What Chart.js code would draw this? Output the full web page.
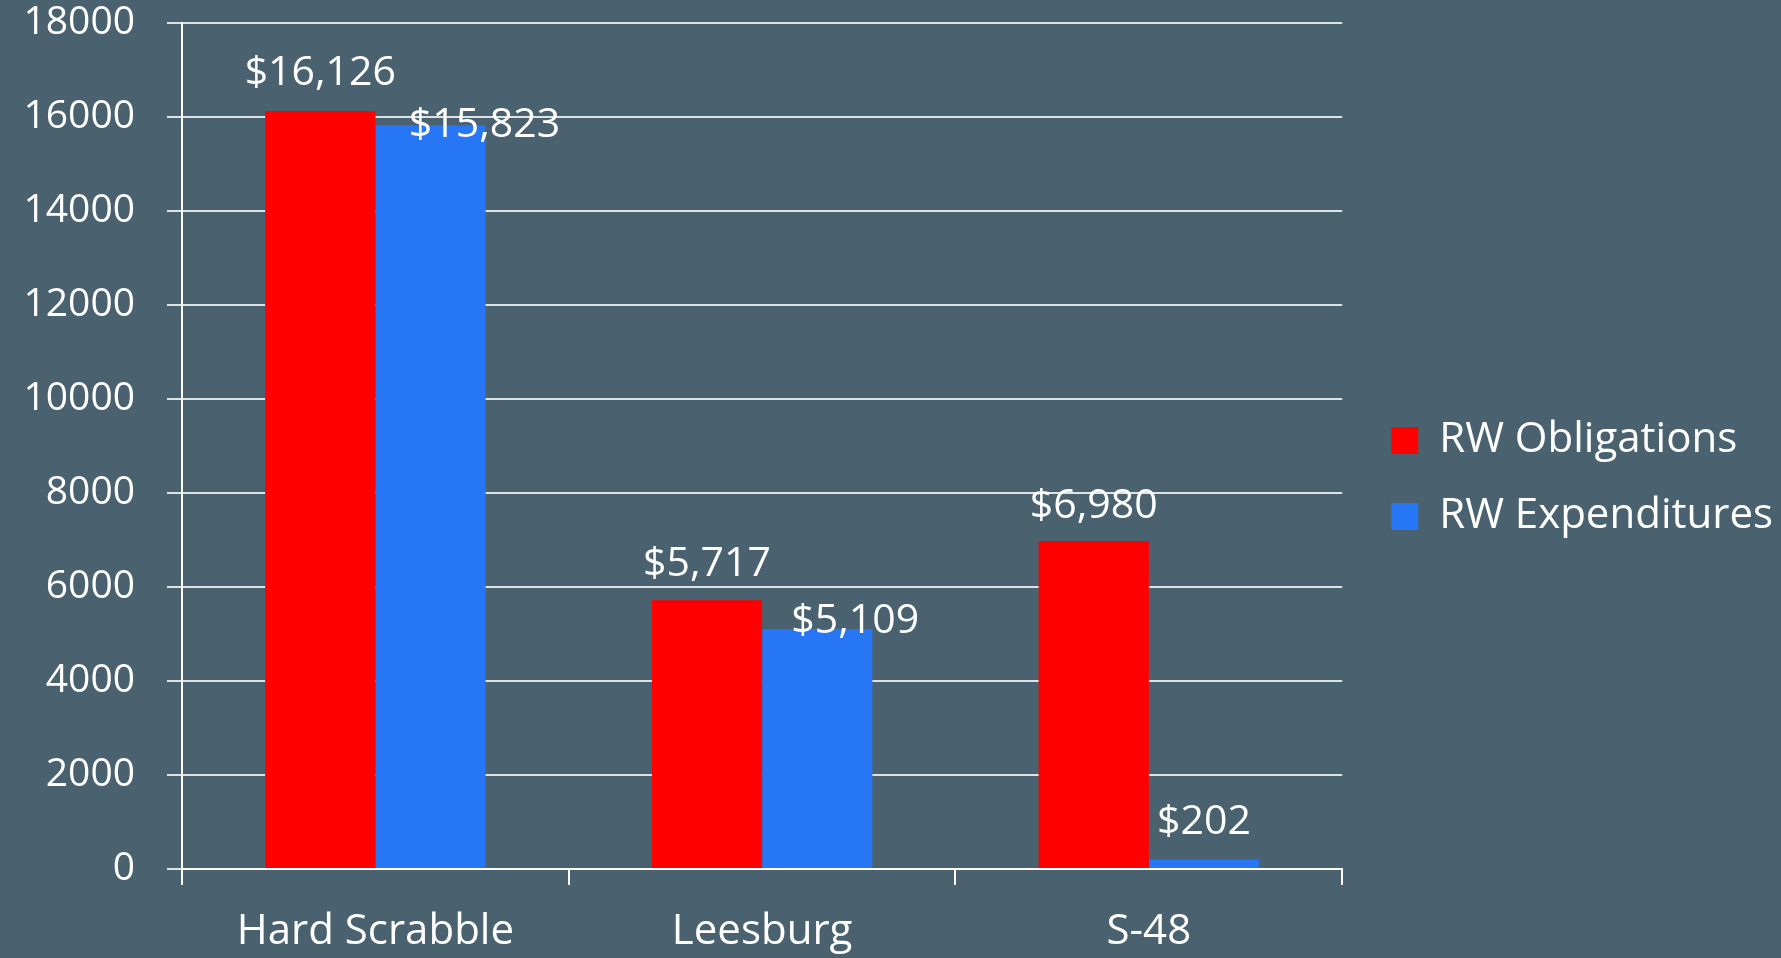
<!DOCTYPE html>
<html>
<head>
<meta charset="utf-8">
<script src="https://cdn.jsdelivr.net/npm/chart.js@4/dist/chart.umd.min.js"></script>
<style>
  body { margin: 0; background: #4a626f; }
  canvas { display: block; background: #4a626f; }
</style>
</head>
<body>
<canvas id="bar-chart" width="1781" height="958"></canvas>
<script>
// chart data
var categories = ["Hard Scrabble", "Leesburg", "S-48"];
var obligations = [16126, 5717, 6980];
var expenditures = [15823, 5109, 202];
var yTicks = [0, 2000, 4000, 6000, 8000, 10000, 12000, 14000, 16000, 18000];

// value labels, shifted where powerpoint pushed them aside
var valueLabels = {
    id: "valueLabels",
    afterDatasetsDraw: function(chart, args, opts) {
        var ctx = chart.ctx;
        ctx.save();
        ctx.fillStyle = "#fff";
        ctx.font = "41px 'Open Sans'";
        ctx.textAlign = "center";
        ctx.textBaseline = "middle";
        chart.data.datasets.forEach(function(ds, d) {
            var meta = chart.getDatasetMeta(d);
            meta.data.forEach(function(bar, i) {
                var off = opts.offsets[d][i];
                var txt = "$" + ds.data[i].toLocaleString("en-US");
                ctx.fillText(txt, bar.x + off[0], bar.y + off[1]);
            });
        });
        ctx.restore();
    }
};

// nudge legend a bit (right and up)
var legendNudge = {
    id: "legendNudge",
    afterLayout: function(chart) {
        chart.legend.left += 15;
        chart.legend.right += 15;
        chart.legend.top -= 12;
        chart.legend.bottom -= 12;
    }
};

var bc = document.getElementById("bar-chart").getContext('2d');
var myChart = new Chart(bc, {
    type: 'bar',
    data: {
        labels: categories,
        datasets: [{
            label: 'RW Obligations',
            data: obligations,
            backgroundColor: '#ff0000'
        }, {
            label: 'RW Expenditures',
            data: expenditures,
            backgroundColor: '#2676f5'
        }]
    },
    plugins: [valueLabels, legendNudge],
    options: {
        responsive: false,
        animation: false,
        layout: { padding: { top: 23, right: 13, bottom: 0, left: 0 } },
        categoryPercentage: 0.57,
        barPercentage: 1,
        scales: {
            x: {
                grid: { offset: true, drawOnChartArea: false, tickLength: 16, color: '#fff', lineWidth: 2 },
                border: { color: '#fff', width: 2 },
                ticks: { color: '#fff', font: { size: 42, family: "'Open Sans'" }, padding: 22 },
                afterFit: function(s) { s.height = 89; }
            },
            y: {
                min: 0,
                max: 18000,
                afterBuildTicks: function(s) { s.ticks = yTicks.map(function(v) { return { value: v }; }); },
                grid: { color: '#dde2e5', lineWidth: 2, tickLength: 15 },
                border: { color: '#fff', width: 2 },
                ticks: { color: '#fff', font: { size: 39, family: "'Open Sans'" }, padding: 32,
                    callback: function(v) { return String(v); } },
                afterFit: function(s) {
                    s.width = 182;
                    s.paddingTop = 0;
                    s.paddingBottom = 0;
                }
            }
        },
        plugins: {
            legend: {
                position: 'right',
                labels: {
                    color: '#fff',
                    boxWidth: 27,
                    boxHeight: 27,
                    padding: 34,
                    font: { size: 42, family: "'Open Sans'" }
                }
            },
            tooltip: { enabled: false },
            valueLabels: {
                offsets: [
                    [[0, -38], [0, -36], [0, -35]],
                    [[54, 0], [38, -8], [0, -37]]
                ]
            }
        }
    }
});
</script>
</body>
</html>
